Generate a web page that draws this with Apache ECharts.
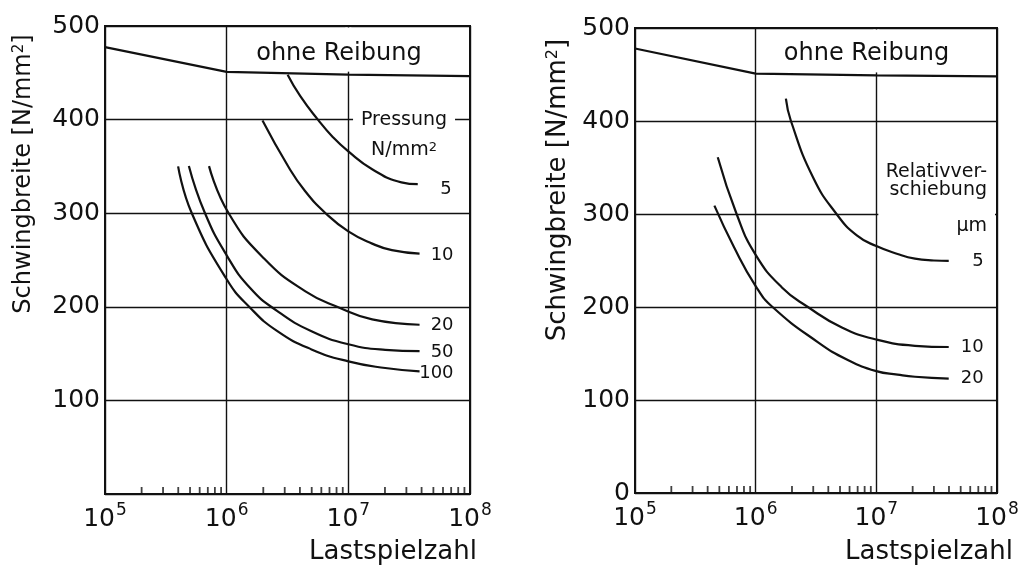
<!DOCTYPE html>
<html>
<head>
<meta charset="utf-8">
<script src="https://cdn.jsdelivr.net/npm/echarts@6/dist/echarts.min.js"></script>
<style>
  html, body { margin: 0; padding: 0; background: #fff; }
  #chart { width: 1026px; height: 569px; }
</style>
</head>
<body>
<div id="chart"></div>
<script>
// S-N curves (Schwingbreite over Lastspielzahl) with fretting, two panels:
// left by contact pressure, right by relative slip amplitude.

// ---- axis ticks ----
const xTickValues = [1e5, 1e6, 1e7, 1e8];
const yTickValues = [0, 100, 200, 300, 400, 500];
const minorTickValues = [
  2e5, 3e5, 4e5, 5e5, 6e5, 7e5, 8e5, 9e5,
  2e6, 3e6, 4e6, 5e6, 6e6, 7e6, 8e6, 9e6,
  2e7, 3e7, 4e7, 5e7, 6e7, 7e7, 8e7, 9e7
];

// ---- left panel: Pressung in N/mm² ----
const ohneReibungLeft = [[1e5, 477.5], [1e6, 451], [1e7, 448], [1e8, 446.5]];
const pressureNames = ['5', '10', '20', '50', '100'];
const pressure5 = [[3.17e6, 448], [4.03e6, 425], [5.62e6, 400], [7.38e6, 382], [1e7, 366], [1.57e7, 347], [2.73e7, 333], [3.72e7, 331]];
const pressure10 = [[1.97e6, 399], [3.19e6, 350.4], [4.39e6, 324], [6.5e6, 300], [1e7, 280.5], [1.57e7, 267.5], [2.28e7, 260.5], [3.85e7, 256.8]];
const pressure20 = [[7.16e5, 350.3], [1.03e6, 300.7], [2.03e6, 251.6], [4.44e6, 216.5], [8.45e6, 199], [1.57e7, 186.5], [3.85e7, 180.8]];
const pressure50 = [[4.89e5, 350.5], [6.6e5, 300.7], [1e6, 255], [1.56e6, 220], [2.61e6, 195.4], [4.98e6, 173.9], [1e7, 160], [2.01e7, 154], [3.85e7, 152.6]];
const pressure100 = [[3.99e5, 350], [5.14e5, 300.7], [1e6, 229.4], [1.56e6, 199], [2.61e6, 174], [4.98e6, 154.5], [1e7, 141.7], [2.01e7, 134.6], [3.85e7, 131]];

// ---- right panel: Relativverschiebung in µm ----
const ohneReibungRight = [[1e5, 478], [1e6, 451], [1e7, 449], [1e8, 448]];
const slipNames = ['5', '10', '20'];
const slip5 = [[1.78e6, 424], [1.96e6, 400], [3.0e6, 339], [4.68e6, 300], [6.89e6, 277], [1e7, 265.5], [1.5e7, 257], [2.09e7, 252], [3.0e7, 250], [3.98e7, 249.5]];
const slip10 = [[4.85e5, 361], [6.95e5, 300], [1e6, 256], [1.65e6, 221], [2.71e6, 200], [5.18e6, 178], [1e7, 165], [2.09e7, 158.3], [3.98e7, 157]];
const slip20 = [[4.55e5, 309], [6.59e5, 264.8], [1e6, 222.5], [1.38e6, 200], [3.29e6, 162], [5.8e6, 143], [1e7, 131], [1.5e7, 127.3], [2.09e7, 125], [3.98e7, 123]];

// ---- styling ----
const INK = '#111';
const FONT = 'DejaVu Sans';

const chart = echarts.init(document.getElementById('chart'), null, { renderer: 'canvas' });

function xAxisFor(gi) {
  return {
    type: 'log', logBase: 10, gridIndex: gi,
    min: xTickValues[0], max: xTickValues[xTickValues.length - 1],
    splitNumber: xTickValues.length - 1,
    axisLine: { show: true, lineStyle: { color: INK, width: 2 } },
    axisTick: { show: false },
    splitLine: { show: true, lineStyle: { color: INK, width: 1.4 } },
    axisLabel: {
      show: true, margin: 8, showMinLabel: true, showMaxLabel: true,
      formatter: v => '{b|10}{s|' + Math.round(Math.log10(v)) + '}',
      rich: {
        b: { fontFamily: FONT, fontSize: 25, color: INK, lineHeight: 30, verticalAlign: 'bottom' },
        s: { fontFamily: FONT, fontSize: 17, color: INK, lineHeight: 18, verticalAlign: 'top', padding: [0, 0, 0, 1] }
      }
    }
  };
}

function yAxisFor(gi, showZero) {
  return {
    type: 'value', gridIndex: gi,
    min: yTickValues[0], max: yTickValues[yTickValues.length - 1], interval: 100,
    axisLine: { show: true, lineStyle: { color: INK, width: 2 } },
    axisTick: { show: false },
    splitLine: { show: true, lineStyle: { color: INK, width: 1.4 } },
    axisLabel: {
      margin: 5, fontFamily: FONT, fontSize: 25, color: INK,
      formatter: v => (v === 0 && !showZero) ? '' : String(v)
    }
  };
}

function curve(name, data, gi, smooth) {
  return {
    type: 'line', name, data, xAxisIndex: gi, yAxisIndex: gi,
    symbol: 'none', silent: true, animation: false, z: 3,
    smooth: smooth ? 0.5 : false,
    lineStyle: { color: INK, width: 2.2 }
  };
}

function minorTicks(gi) {
  return {
    type: 'scatter', xAxisIndex: gi, yAxisIndex: gi, silent: true, animation: false,
    clip: false, z: 3,
    data: minorTickValues.map(v => [v, 0]),
    symbol: 'rect', symbolSize: [1.8, 7], symbolOffset: [0, -3.5],
    itemStyle: { color: INK }
  };
}

const leftCurves = [pressure5, pressure10, pressure20, pressure50, pressure100];
const rightCurves = [slip5, slip10, slip20];

const series = [
  curve('ohne Reibung', ohneReibungLeft, 0, false),
  ...leftCurves.map((d, i) => curve(pressureNames[i], d, 0, true)),
  minorTicks(0),
  curve('ohne Reibung', ohneReibungRight, 1, false),
  ...rightCurves.map((d, i) => curve(slipNames[i], d, 1, true)),
  minorTicks(1)
];

chart.setOption({
  backgroundColor: '#fff',
  animation: false,
  grid: [
    { left: 105, top: 26, width: 365, height: 468, show: true, borderColor: INK, borderWidth: 2, backgroundColor: 'transparent' },
    { left: 635, top: 28, width: 362, height: 465, show: true, borderColor: INK, borderWidth: 2, backgroundColor: 'transparent' }
  ],
  xAxis: [xAxisFor(0), xAxisFor(1)],
  yAxis: [yAxisFor(0, false), yAxisFor(1, true)],
  series
});

// ---- annotations placed through the axes ----
const px = (gi, x, y) => chart.convertToPixel({ gridIndex: gi }, [x, y]);
const gridRect = gi => chart.getModel().getComponent('grid', gi).coordinateSystem.getRect();

function txt(x, y, text, size, align, rich, rotation) {
  const el = {
    type: 'text', x, y, z: 10, silent: true,
    style: {
      text, fontFamily: FONT, fontSize: size, fill: INK,
      align: align || 'center', verticalAlign: 'middle'
    }
  };
  if (rich) el.style.rich = rich;
  if (rotation) { el.rotation = rotation; }
  return el;
}
function mask(x, y, w, h) {
  return { type: 'rect', z: 1, silent: true, shape: { x, y, width: w, height: h }, style: { fill: '#fff' } };
}

const sup = size => ({ s: { fontFamily: FONT, fontSize: size, fill: INK, verticalAlign: 'top', lineHeight: size } });

const g = [];
[0, 1].forEach(gi => {
  const r = gridRect(gi);
  const ohne = gi === 0 ? ohneReibungLeft : ohneReibungRight;
  // clear the 10^7 grid line above the "ohne Reibung" line
  const p7 = px(gi, 1e7, ohne[2][1]);
  g.push(mask(p7[0] - 3, r.y + 1.5, 6, p7[1] - 3 - (r.y + 1.5)));
  // "ohne Reibung"
  const t = px(gi, gi === 0 ? 8.37e6 : 8.3e6, gi === 0 ? 470 : 472);
  g.push(txt(t[0], t[1], 'ohne Reibung', 24));
  // axis titles
  g.push(txt(gi === 0 ? 393 : 929, 552, 'Lastspielzahl', 26));
});

// left panel: legend heading on the 400 line
{
  const c = px(0, 2.87e7, 400);
  g.push(mask(c[0] - 51, c[1] - 3, 102, 6));
  g.push(txt(c[0], c[1], 'Pressung', 19));
  const c2 = px(0, 2.87e7, 367);
  g.push(txt(c2[0], c2[1], 'N/mm{s|2}', 19, 'center', sup(13)));
  const dy = [5, 2, 1, 1, 1.5];
  leftCurves.forEach((d, i) => {
    const e = px(0, d[d.length - 1][0], d[d.length - 1][1]);
    g.push(txt(e[0] + 34, e[1] + dy[i], pressureNames[i], 18, 'right'));
  });
}

// right panel: legend heading beside the curves
{
  const r = gridRect(1);
  const p300 = px(1, 1e7, 300);
  g.push(mask(p300[0] + 2, p300[1] - 3, r.x + r.width - 2 - (p300[0] + 2), 6));
  const a = px(1, 8.26e7, 344.7);
  g.push(txt(a[0], a[1], 'Relativver-', 19, 'right'));
  const b = px(1, 8.26e7, 325.4);
  g.push(txt(b[0], b[1], 'schiebung', 19, 'right'));
  const m = px(1, 8.26e7, 287);
  g.push(txt(m[0], m[1], 'µm', 19, 'right'));
  rightCurves.forEach((d, i) => {
    const e = px(1, d[d.length - 1][0], d[d.length - 1][1]);
    g.push(txt(e[0] + 35, e[1], slipNames[i], 18, 'right'));
  });
}

// y axis titles (read bottom to top)
g.push(txt(24, 174, 'Schwingbreite [N/mm{s|2}]', 24, 'center', sup(15), Math.PI / 2));
g.push(txt(558, 190, 'Schwingbreite [N/mm{s|2}]', 26, 'center', sup(16), Math.PI / 2));

chart.setOption({ graphic: { elements: g } });
</script>
</body>
</html>
